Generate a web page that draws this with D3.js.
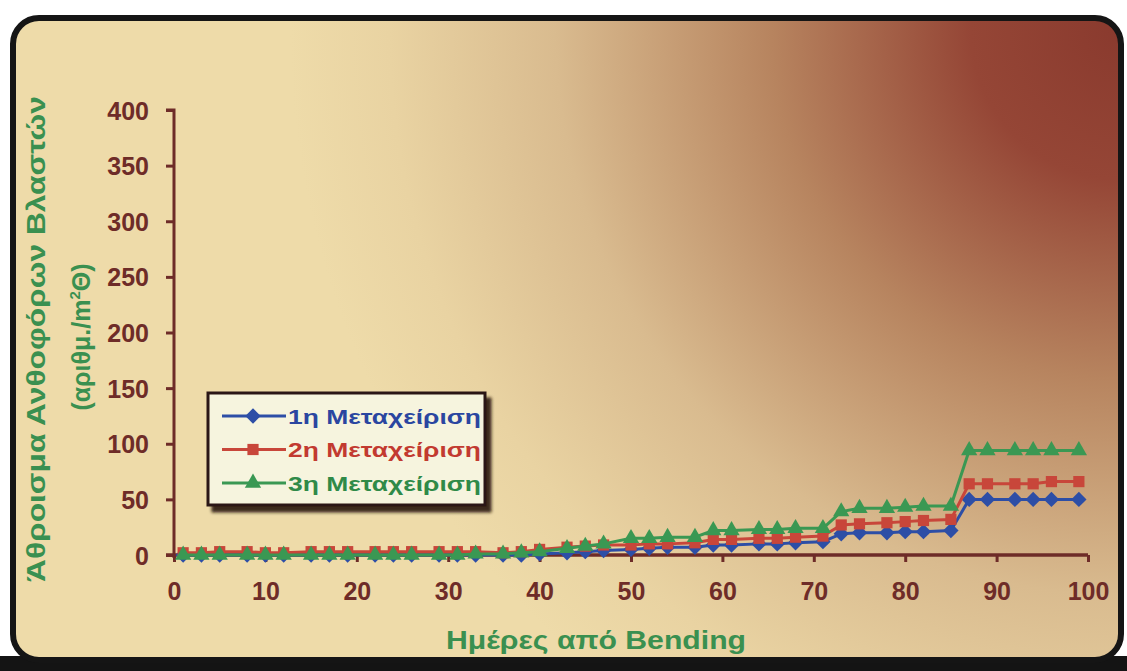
<!DOCTYPE html>
<html>
<head>
<meta charset="utf-8">
<script src="https://cdn.jsdelivr.net/npm/d3@7"></script>
<style>
  html, body { margin: 0; padding: 0; background: #ffffff; }
  svg { display: block; }
  text { font-family: Arial, "Liberation Sans", sans-serif; font-weight: bold; }
</style>
</head>
<body>
<svg id="chart" width="1127" height="671"></svg>
<script>
// ---------- data ----------
const days = [1,3,5,8,10,12,15,17,19,22,24,26,29,31,33,36,38,40,43,45,47,50,52,54,57,59,61,64,66,68,71,73,75,78,80,82,85,87,89,92,94,96,99];
const series1 = [0,0,0,0,0,0,0,0,0,0,0,0,0,0,0,0,0, 1,2,3,4,5,6,7,7,9,9,10,10,11,12,19,20,20,21,21,22,50,50,50,50,50,50];
const series2 = [2,2,3,3,2,2,3,3,3,3,3,3,3,3,3,2,3, 5,7,8,9,9,10,10,11,14,14,15,15,16,17,27,28,29,30,31,32,64,64,64,64,66,66];
const series3 = [0,0,0,0,0,0,0,0,0,0,0,0,0,0,1,1,2, 3,6,8,10,15,15,16,16,22,22,23,23,24,24,39,42,42,43,44,44,94,94,94,94,94,94];
const seriesNames = ["1η Μεταχείριση", "2η Μεταχείριση", "3η Μεταχείριση"];
const xTicks = [0,10,20,30,40,50,60,70,80,90,100];
const yTicks = [0,50,100,150,200,250,300,350,400];
const xTitle = "Ημέρες από Bending";
const yTitle1 = "Άθροισμα Ανθοφόρων Βλαστών";

// ---------- styles ----------
const colors = ["#2d4ea6", "#c8463a", "#3a9853"];
const textColors = ["#2a46a0", "#c23a30", "#2f8a48"];
const symbols = [d3.symbolDiamond2, d3.symbolSquare2, d3.symbolTriangle2];
const symSizes = [150, 160, 190];
const axisColor = "#6e2c28";
const titleColor = "#3a9050";
const FONT = "Arial, 'Liberation Sans', sans-serif";

const svg = d3.select("#chart");
const W = 1127, H = 671;

// background gradient
const defs = svg.append("defs");
const rg = defs.append("radialGradient")
  .attr("id", "bg").attr("gradientUnits", "userSpaceOnUse")
  .attr("cx", 1120).attr("cy", 30).attr("r", 830);
[[0, "#8a3a2e"], [0.18, "#954636"], [0.42, "#b7845f"], [0.68, "#d9bb8f"], [0.88, "#e9d3a2"], [1, "#eedba9"]]
  .forEach(([o, c]) => rg.append("stop").attr("offset", o).attr("stop-color", c));

const shadow = defs.append("filter").attr("id", "shadow").attr("x", "-10%").attr("y", "-10%").attr("width", "130%").attr("height", "140%");
shadow.append("feDropShadow").attr("dx", 5).attr("dy", 6).attr("stdDeviation", 1.5).attr("flood-color", "#2a1410").attr("flood-opacity", 0.9);

// bottom dark band & frame
svg.append("rect").attr("x", 0).attr("y", 656).attr("width", W).attr("height", 15).attr("fill", "#141414");
svg.append("rect")
  .attr("x", 13).attr("y", 18).attr("width", 1108).attr("height", 642)
  .attr("rx", 26).attr("ry", 26)
  .attr("fill", "url(#bg)")
  .attr("stroke", "#151515").attr("stroke-width", 6);

// ---------- scales ----------
const x = d3.scaleLinear().domain([0, 100]).range([174, 1088]);
const y = d3.scaleLinear().domain([0, 400]).range([555, 110]);

// y axis
const yAxis = svg.append("g").attr("transform", `translate(${x(0)},0)`)
  .call(d3.axisLeft(y).tickValues(yTicks).tickSize(8).tickPadding(17));
yAxis.select(".domain").attr("stroke", axisColor).attr("stroke-width", 3)
  .attr("d", `M-8,${y(400)}H0V${y(0) + 3}`);
yAxis.selectAll(".tick line").attr("stroke", axisColor).attr("stroke-width", 3);
yAxis.selectAll(".tick text").attr("fill", axisColor).attr("font-size", 25)
  .attr("font-family", FONT).attr("font-weight", "bold").attr("dy", "0.36em");

// x axis
const xAxis = svg.append("g").attr("transform", `translate(0,${y(0)})`)
  .call(d3.axisBottom(x).tickValues(xTicks).tickSize(7).tickPadding(35));
xAxis.select(".domain").attr("stroke", axisColor).attr("stroke-width", 3.5)
  .attr("d", `M${x(0) - 8},0H${x(100)}`);
xAxis.selectAll(".tick line").attr("stroke", axisColor).attr("stroke-width", 3);
xAxis.selectAll(".tick text").attr("fill", axisColor).attr("font-size", 25)
  .attr("font-family", FONT).attr("font-weight", "bold").attr("dy", "0.1em");

// axis titles
svg.append("text").attr("x", 596).attr("y", 649).attr("text-anchor", "middle")
  .attr("fill", titleColor).attr("font-size", 26)
  .attr("textLength", 300).attr("lengthAdjust", "spacingAndGlyphs").text(xTitle);

const yt = svg.append("g").attr("transform", "translate(45,339) rotate(-90)");
yt.append("text").attr("x", 0).attr("y", 0).attr("text-anchor", "middle")
  .attr("fill", titleColor).attr("font-size", 25)
  .attr("textLength", 486).attr("lengthAdjust", "spacingAndGlyphs").text(yTitle1);
const yt2 = svg.append("text").attr("transform", "translate(90,337) rotate(-90)")
  .attr("text-anchor", "middle").attr("fill", titleColor).attr("font-size", 25);
yt2.append("tspan").text("(αριθμ./m");
yt2.append("tspan").attr("font-size", 15).attr("dy", -10).text("2");
yt2.append("tspan").attr("dy", 10).text("Θ)");

// ---------- series ----------
const allSeries = [series1, series2, series3];
const line = d3.line().x(d => x(d[0])).y(d => y(d[1]));
allSeries.forEach((vals, i) => {
  const pts = days.map((d, k) => [d, vals[k]]);
  const g = svg.append("g");
  g.append("path").datum(pts).attr("d", line)
    .attr("fill", "none").attr("stroke", colors[i]).attr("stroke-width", 3)
    .attr("stroke-linejoin", "round");
  g.selectAll("path.m").data(pts).join("path").attr("class", "m")
    .attr("transform", d => `translate(${x(d[0])},${y(d[1])})`)
    .attr("d", d3.symbol().type(symbols[i]).size(symSizes[i]))
    .attr("fill", colors[i]);
});

// ---------- legend ----------
const lg = svg.append("g").attr("transform", "translate(208,393)");
lg.append("rect").attr("width", 277).attr("height", 112)
  .attr("fill", "#f6f4de").attr("stroke", "#2c1612").attr("stroke-width", 3)
  .attr("filter", "url(#shadow)");
seriesNames.forEach((name, i) => {
  const ry = 23 + i * 33.5;
  lg.append("line").attr("x1", 14).attr("x2", 78).attr("y1", ry).attr("y2", ry)
    .attr("stroke", colors[i]).attr("stroke-width", 3);
  lg.append("path").attr("transform", `translate(45,${ry})`)
    .attr("d", d3.symbol().type(symbols[i]).size(symSizes[i]))
    .attr("fill", colors[i]);
  lg.append("text").attr("x", 80).attr("y", ry + 7.5)
    .attr("fill", textColors[i]).attr("font-size", 21)
    .attr("textLength", 193).attr("lengthAdjust", "spacingAndGlyphs").text(name);
});
</script>
</body>
</html>
